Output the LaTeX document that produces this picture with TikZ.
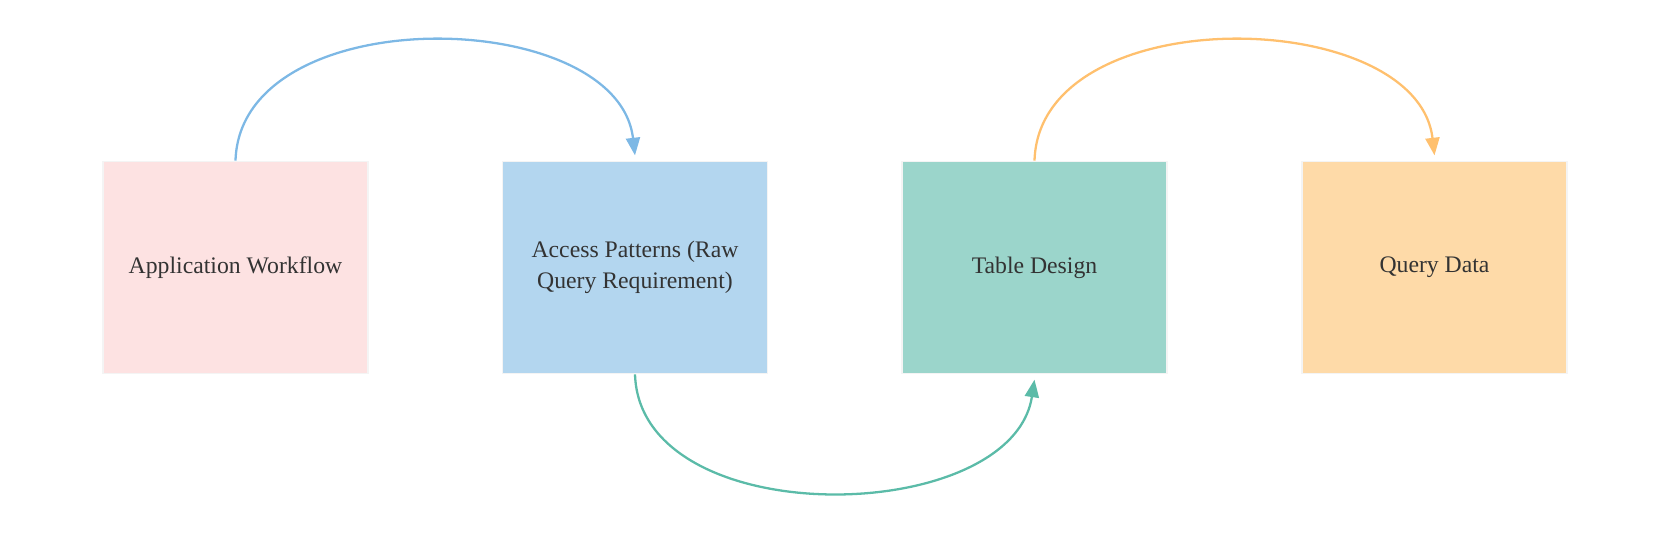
\documentclass[tikz,border=0pt]{standalone}
\usepackage{fontspec}
\setmainfont{Liberation Serif}
\usepackage{tikz}
\usetikzlibrary{arrows.meta}

\definecolor{workpink}{HTML}{FDE2E2}
\definecolor{patternblue}{HTML}{B3D6EF}
\definecolor{designteal}{HTML}{9BD5CB}
\definecolor{queryorange}{HTML}{FEDAA8}
\definecolor{edgeblue}{HTML}{7DB8E5}
\definecolor{edgeteal}{HTML}{5BBBA8}
\definecolor{edgeorange}{HTML}{FFC06E}
\definecolor{boxline}{HTML}{F4F4F4}
\definecolor{labeltext}{HTML}{333333}

\tikzset{
  stage/.style={draw=boxline, line width=1pt, minimum width=5.3cm, minimum height=4.24cm,
    align=center, text=labeltext, font=\fontsize{13.5}{17.6}\selectfont},
  flow/.style={line width=1.3pt, -{Triangle[length=10pt,width=8pt]}}
}

\begin{document}
\begin{tikzpicture}
    \useasboundingbox (0,0) rectangle (33.36,-10.66);
    % Nodes
    \node[stage, fill=workpink] (workflow) at (4.71,-5.35) {Application Workflow};
    \node[stage, fill=patternblue] (patterns) at (12.7,-5.35) {Access Patterns (Raw\\Query Requirement)};
    \node[stage, fill=designteal] (design) at (20.69,-5.35) {Table Design};
    \node[stage, fill=queryorange] (query) at (28.69,-5.35) {Query Data};
    % Arrows
    \draw[flow, edgeblue] (workflow.north) .. controls +(0.1,3.25) and +(-0.35,3.0) .. ([yshift=3pt]patterns.north);
    \draw[flow, edgeteal] (patterns.south) .. controls +(0.1,-3.2) and +(-0.45,-2.95) .. ([yshift=-3pt]design.south);
    \draw[flow, edgeorange] (design.north) .. controls +(0.1,3.25) and +(-0.35,3.0) .. ([yshift=3pt]query.north);
\end{tikzpicture}
\end{document}
